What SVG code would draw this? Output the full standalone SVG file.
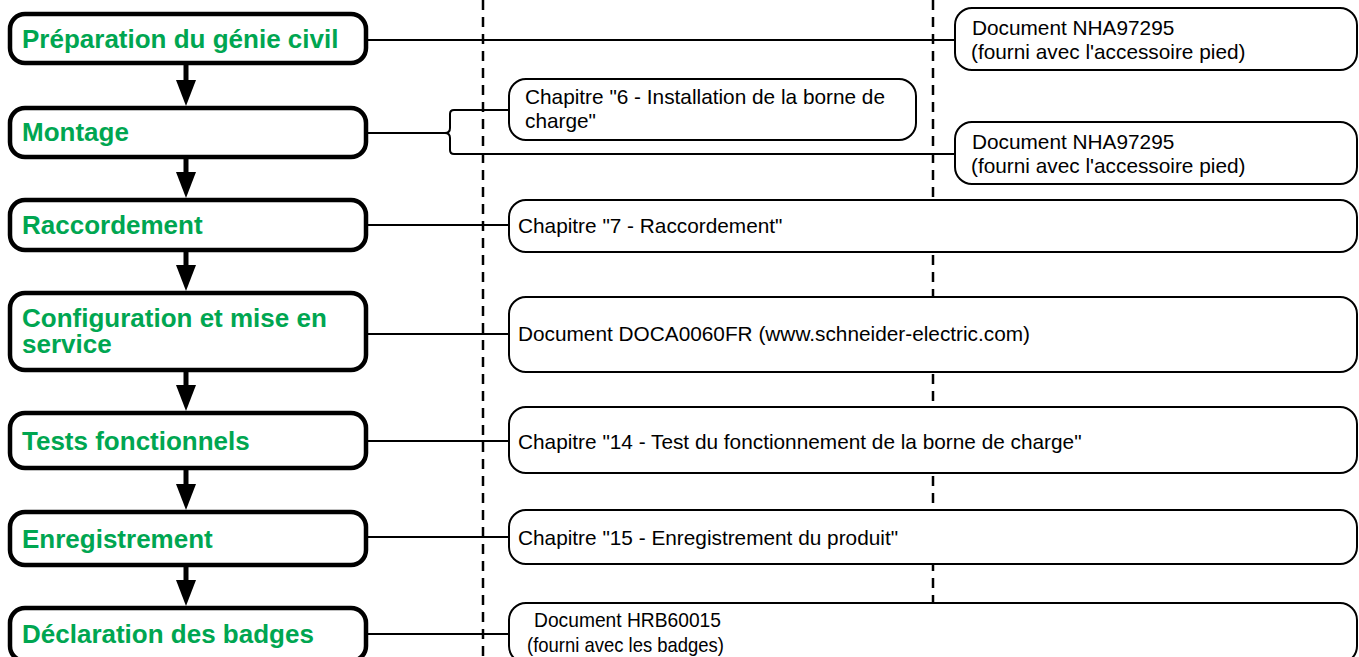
<svg xmlns="http://www.w3.org/2000/svg" width="1359" height="657" viewBox="0 0 1359 657">
<style>
.bg{fill:#fff}
.step{fill:#fff;stroke:#000;stroke-width:4.5}
.ref{fill:#fff;stroke:#000;stroke-width:2}
.st{font-family:"Liberation Sans",Arial,sans-serif;font-weight:bold;font-size:26px;fill:#00a651}
.rt{font-family:"Liberation Sans",Arial,sans-serif;font-size:20.8px;fill:#000}
.dash{stroke:#000;stroke-width:2.5;stroke-dasharray:10 7;fill:none}
.con{stroke:#000;stroke-width:2;fill:none}
.shaft{stroke:#000;stroke-width:5}
</style>
<rect class="bg" x="0" y="0" width="1359" height="657"/>
<g id="guides">
<line class="dash" x1="483" y1="0" x2="483" y2="657"/>
<line class="dash" x1="933" y1="0" x2="933" y2="657"/>
</g>
<g id="connectors">
<line class="con" x1="366" y1="40" x2="955" y2="40"/>
<line class="con" x1="366" y1="133" x2="445" y2="133"/>
<path class="con" d="M445 133 Q450 133 450 128 L450 114 Q450 110 454 110 L509 110"/>
<path class="con" d="M445 133 Q450 133 450 138 L450 150 Q450 154 454 154 L955 154"/>
<line class="con" x1="366" y1="225" x2="509" y2="225"/>
<line class="con" x1="366" y1="334" x2="509" y2="334"/>
<line class="con" x1="366" y1="441" x2="509" y2="441"/>
<line class="con" x1="366" y1="537" x2="509" y2="537"/>
<line class="con" x1="366" y1="634" x2="509" y2="634"/>
<line class="shaft" x1="186" y1="65" x2="186" y2="81"/>
<polygon points="176,80 196,80 186,106"/>
<line class="shaft" x1="186" y1="159" x2="186" y2="173"/>
<polygon points="176,172 196,172 186,198"/>
<line class="shaft" x1="186" y1="252" x2="186" y2="266"/>
<polygon points="176,265 196,265 186,291"/>
<line class="shaft" x1="186" y1="372" x2="186" y2="386"/>
<polygon points="176,385 196,385 186,411"/>
<line class="shaft" x1="186" y1="470" x2="186" y2="485"/>
<polygon points="176,484 196,484 186,510"/>
<line class="shaft" x1="186" y1="567" x2="186" y2="581"/>
<polygon points="176,580 196,580 186,606"/>
</g>
<g id="s1"><rect class="step" x="10" y="14" width="356" height="49" rx="15"/><text class="st" x="22" y="48">Préparation du génie civil</text></g>
<g id="s2"><rect class="step" x="10" y="108" width="356" height="49" rx="15"/><text class="st" x="22" y="141">Montage</text></g>
<g id="s3"><rect class="step" x="10" y="200" width="356" height="50" rx="15"/><text class="st" x="22" y="234">Raccordement</text></g>
<g id="s4"><rect class="step" x="10" y="293" width="356" height="77" rx="15"/><text class="st" x="22" y="327">Configuration et mise en</text><text class="st" x="22" y="353">service</text></g>
<g id="s5"><rect class="step" x="10" y="413" width="356" height="55" rx="15"/><text class="st" x="22" y="450">Tests fonctionnels</text></g>
<g id="s6"><rect class="step" x="10" y="512" width="356" height="53" rx="15"/><text class="st" x="22" y="548">Enregistrement</text></g>
<g id="s7"><rect class="step" x="10" y="608" width="356" height="53" rx="15"/><text class="st" x="22" y="643">Déclaration des badges</text></g>
<g id="r1"><rect class="ref" x="955" y="8" width="402" height="62" rx="17"/><text class="rt" x="972" y="35">Document NHA97295</text><text class="rt" x="971" y="59">(fourni avec l'accessoire pied)</text></g>
<g id="r2"><rect class="ref" x="509" y="79" width="407" height="61" rx="17"/><text class="rt" x="525" y="104">Chapitre "6 - Installation de la borne de</text><text class="rt" x="525" y="128">charge"</text></g>
<g id="r3"><rect class="ref" x="955" y="122" width="402" height="62" rx="17"/><text class="rt" x="972" y="149">Document NHA97295</text><text class="rt" x="971" y="173">(fourni avec l'accessoire pied)</text></g>
<g id="r4"><rect class="ref" x="509" y="200" width="848" height="52" rx="17"/><text class="rt" x="518" y="233">Chapitre "7 - Raccordement"</text></g>
<g id="r5"><rect class="ref" x="509" y="297" width="848" height="75" rx="17"/><text class="rt" x="518" y="341">Document DOCA0060FR (www.schneider-electric.com)</text></g>
<g id="r6"><rect class="ref" x="509" y="407" width="848" height="66" rx="17"/><text class="rt" x="518" y="449">Chapitre "14 - Test du fonctionnement de la borne de charge"</text></g>
<g id="r7"><rect class="ref" x="509" y="510" width="848" height="54" rx="17"/><text class="rt" x="518" y="545">Chapitre "15 - Enregistrement du produit"</text></g>
<g id="r8"><rect class="ref" x="509" y="603" width="848" height="60" rx="17"/><text class="rt" x="534" y="627" textLength="187" lengthAdjust="spacingAndGlyphs">Document HRB60015</text><text class="rt" x="527" y="652" textLength="197" lengthAdjust="spacingAndGlyphs">(fourni avec les badges)</text></g>
</svg>
